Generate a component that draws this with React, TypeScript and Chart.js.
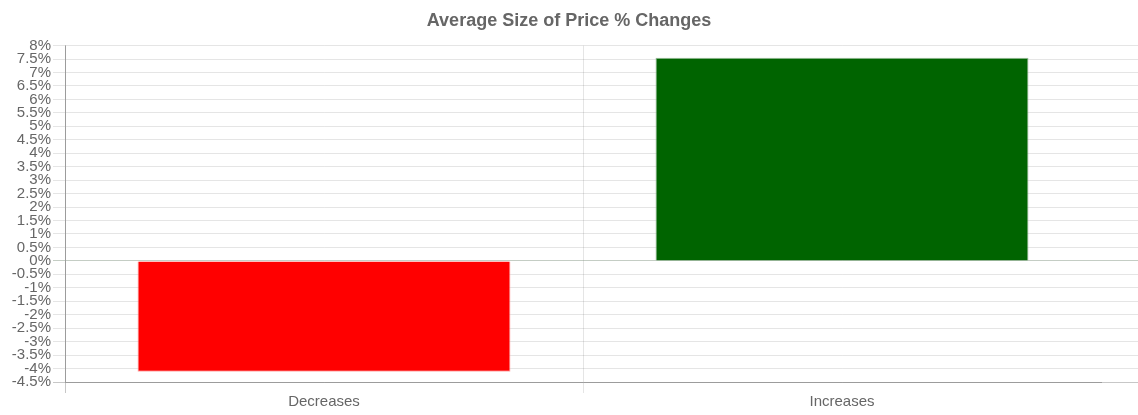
import React, { useEffect, useRef } from "react";
import { Chart, registerables } from "chart.js";

Chart.register(...registerables);

const categories = ["Decreases", "Increases"];
const values = [-4.12, 7.55];
const barColors = ["#ff0000", "#006400"];
const barBorders = ["rgba(255,160,160,0.9)", "rgba(140,180,140,0.9)"];
const yMin = -4.5;
const yMax = 8;
const yStep = 0.5;
const titleText = "Average Size of Price % Changes";

const FONT = "Arial, 'Liberation Sans', Helvetica, sans-serif";
const GRID = "rgba(0,0,0,0.1)";
const AXIS = "rgba(0,0,0,0.22)";
const ZERO = "rgba(60,90,60,0.3)";

const yGridColor = (ctx: any) =>
  ctx.tick && ctx.tick.value === 0
    ? ZERO
    : ctx.tick && ctx.tick.value === yMin
    ? AXIS
    : GRID;

export default function App() {
  const ref = useRef<HTMLCanvasElement>(null);
  useEffect(() => {
    if (!ref.current) return;
    const chart = new Chart(ref.current, {
      type: "bar",
      data: {
        labels: categories,
        datasets: [
          {
            data: values,
            backgroundColor: barColors,
            borderColor: barBorders,
            borderWidth: 1,
            yAxisID: "y",
          },
        ],
      },
      options: {
        animation: false,
        responsive: true,
        maintainAspectRatio: false,
        layout: { padding: { left: 0, right: 0, top: 0, bottom: 4 } },
        plugins: {
          legend: { display: false },
          tooltip: { enabled: false },
          title: {
            display: true,
            text: titleText,
            color: "#666",
            font: { family: FONT, size: 18, weight: "bold" },
            padding: { top: 10, bottom: 14 },
          },
        },
        scales: {
          x: {
            offset: true,
            grid: {
              offset: true,
              color: (ctx: any) =>
                ctx.type !== "tick" ? "rgba(0,0,0,0)" : ctx.index === 0 ? AXIS : GRID,
              tickLength: 11,
            },
            border: { display: true, color: AXIS },
            ticks: { color: "#666", font: { family: FONT, size: 15 }, padding: 0 },
          },
          y: {
            position: "left",
            min: yMin,
            max: yMax,
            afterFit: (s: any) => {
              s.width = 65;
            },
            ticks: {
              stepSize: yStep,
              autoSkip: false,
              color: "#666",
              padding: 2,
              font: { family: FONT, size: 15 },
              callback: (v: any) => `${v}%`,
            },
            grid: {
              tickLength: 12,
              color: yGridColor,
            },
            border: { display: true, color: AXIS },
          },
          y2: {
            position: "right",
            min: yMin,
            max: yMax,
            ticks: { stepSize: yStep, display: false, autoSkip: false },
            grid: {
              drawOnChartArea: false,
              tickLength: 37,
              color: yGridColor,
            },
            border: { display: false },
          },
        },
      },
    });
    return () => chart.destroy();
  }, []);
  return (
    <div style={{ position: "fixed", left: 0, top: 0, width: 1138, height: 415, background: "#fff" }}>
      <canvas ref={ref} />
    </div>
  );
}
